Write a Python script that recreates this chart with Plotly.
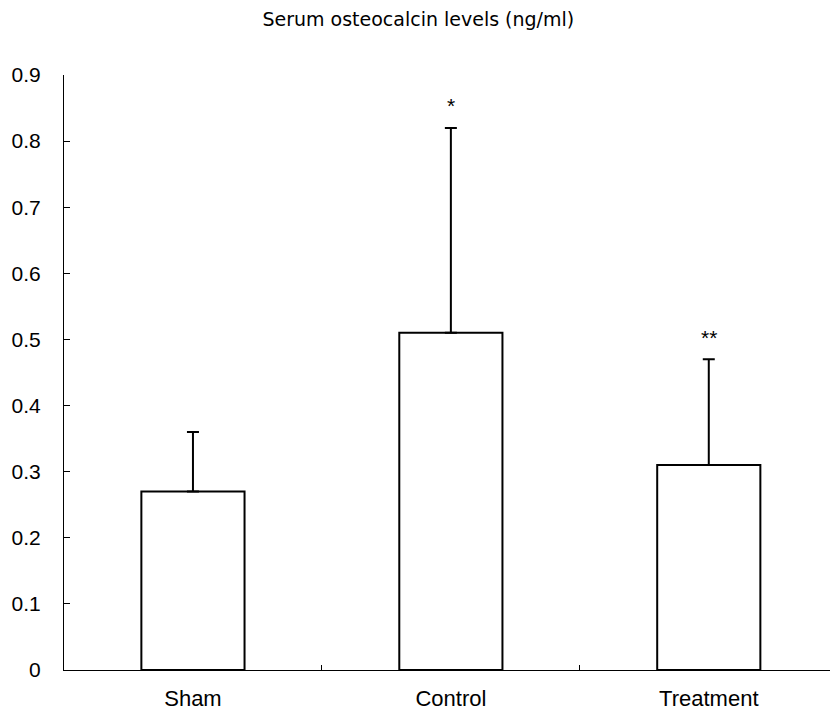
import plotly.graph_objects as go

categories = ["Sham", "Control", "Treatment"]
means = [0.27, 0.51, 0.31]
errors_up = [0.09, 0.31, 0.16]
significance = ["", "*", "**"]
y_ticks = [0, 0.1, 0.2, 0.3, 0.4, 0.5, 0.6, 0.7, 0.8, 0.9]
y_tick_labels = ["0", "0.1", "0.2", "0.3", "0.4", "0.5", "0.6", "0.7", "0.8", "0.9"]

fig = go.Figure()
fig.add_trace(go.Bar(
    x=categories, y=means, width=0.4,
    marker=dict(color="white", line=dict(color="black", width=2)),
    error_y=dict(type="data", symmetric=False, array=errors_up,
                 arrayminus=[0, 0, 0], color="black", thickness=2, width=6),
    showlegend=False,
))

for c, m, e, s in zip(categories, means, errors_up, significance):
    if s:
        fig.add_annotation(x=c, y=m + e, text=s, showarrow=False,
                           yshift=22, font=dict(size=21, color="black"))

fig.update_layout(
    width=830, height=716,
    margin=dict(l=64, r=0, t=75, b=46),
    paper_bgcolor="white", plot_bgcolor="white",
    font=dict(family="Liberation Sans, Arial, sans-serif", size=21, color="black"),
    title=dict(text="Serum osteocalcin levels (ng/ml)", x=0.504, xanchor="center",
               y=0.973, yanchor="middle",
               font=dict(size=19, family="DejaVu Sans, sans-serif")),
)
fig.update_xaxes(range=[-0.5, 2.47], showline=True, linecolor="black", linewidth=1,
                 ticks="inside", tickson="boundaries", ticklen=5, tickcolor="black",
                 tickfont=dict(size=22), ticklabelstandoff=9,
                 showgrid=False, zeroline=False)
fig.update_yaxes(range=[0, 0.9], showline=True, linecolor="black", linewidth=1,
                 ticks="inside", ticklen=6, tickcolor="black",
                 tickvals=y_ticks, ticktext=y_tick_labels, tickfont=dict(size=21),
                 showgrid=False, zeroline=False, ticklabelstandoff=18)

fig.write_html("out.html")
